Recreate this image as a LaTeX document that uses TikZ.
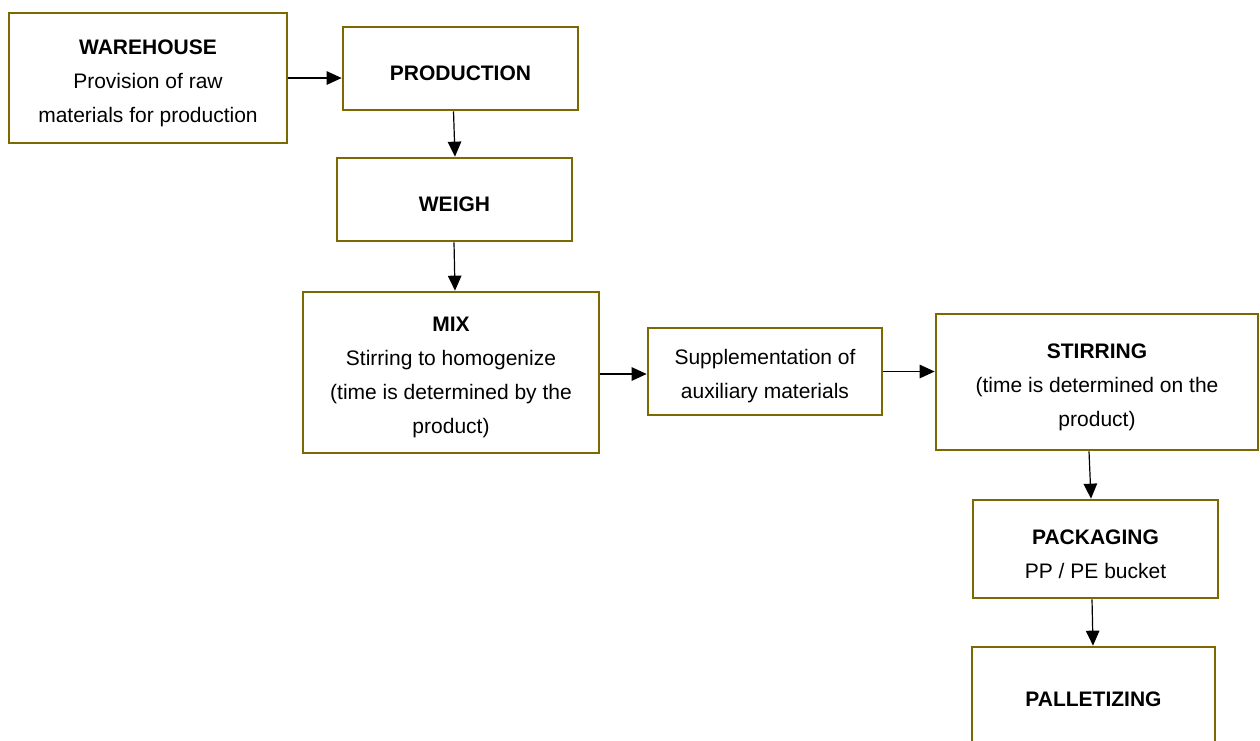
\documentclass[tikz,border=0pt]{standalone}
\usepackage{fontspec}
\setmainfont{Liberation Sans}
\usetikzlibrary{arrows.meta}
\definecolor{boxolive}{RGB}{124,106,0}
\tikzset{
  stepbox/.style={draw=boxolive, line width=2.7pt, fill=white, inner sep=0pt},
  steptext/.style={align=center, inner sep=0pt, yshift=-5pt, font=\fontsize{21}{34}\selectfont},
  flow/.style={line width=1.2pt, -{Triangle[length=15pt,width=13.5pt]}}
}
\begin{document}
\begin{tikzpicture}[x=1pt,y=-1pt]
\useasboundingbox (0,0) rectangle (1260,740);
\clip (0,0) rectangle (1260,740);
\node[stepbox, minimum width=278pt, minimum height=130pt,
  label={[steptext]center:\textbf{WAREHOUSE}\\Provision of raw\\materials for production}] (wh) at (148,78) {};
\node[stepbox, minimum width=235pt, minimum height=83pt,
  label={[steptext]center:\textbf{PRODUCTION}}] (prod) at (460.5,68.5) {};
\node[stepbox, minimum width=235pt, minimum height=83pt,
  label={[steptext]center:\textbf{WEIGH}}] (weigh) at (454.5,199.5) {};
\node[stepbox, minimum width=296pt, minimum height=161pt,
  label={[steptext]center:\textbf{MIX}\\Stirring to homogenize\\(time is determined by the\\product)}] (mix) at (451,372.5) {};
\node[stepbox, minimum width=234pt, minimum height=87pt,
  label={[steptext]center:Supplementation of\\auxiliary materials}] (supp) at (765,371.5) {};
\node[stepbox, minimum width=322pt, minimum height=136pt,
  label={[steptext]center:\textbf{STIRRING}\\(time is determined on the\\product)}] (stir) at (1097,382) {};
\node[stepbox, minimum width=245pt, minimum height=98pt,
  label={[steptext]center:\textbf{PACKAGING}\\PP / PE bucket}] (pack) at (1095.5,549) {};
\node[stepbox, minimum width=243pt, minimum height=95pt,
  label={[steptext]center:\textbf{PALLETIZING}}] (pal) at (1093.5,694.5) {};
\draw[flow] (wh.east) -- (wh.east -| prod.west);
\draw[flow] ([xshift=-7pt]prod.south) -- ([xshift=0.5pt]weigh.north);
\draw[flow] ([xshift=-0.5pt]weigh.south) -- ([xshift=4pt]mix.north);
\draw[flow] ([yshift=-1.5pt]mix.east) -- ([yshift=-1.5pt]mix.east -| supp.west);
\draw[flow] (supp.east) -- (supp.east -| stir.west);
\draw[flow] ([xshift=-8pt]stir.south) -- ([xshift=-4.5pt]pack.north);
\draw[flow] ([xshift=-3.5pt]pack.south) -- ([xshift=-0.5pt]pal.north);
\end{tikzpicture}
\end{document}
